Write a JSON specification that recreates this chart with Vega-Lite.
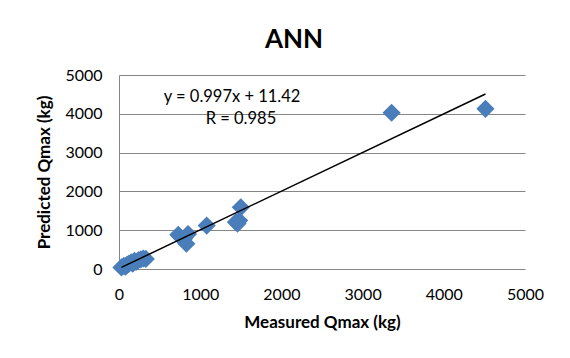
{
  "$schema": "https://vega.github.io/schema/vega-lite/v6.json",
  "autosize": {"type": "none"},
  "width": 406,
  "height": 194,
  "padding": {"left": 119, "top": 75, "right": 45, "bottom": 89},
  "background": "white",
  "title": {"text": "ANN", "fontSize": 26, "font": "Lato", "fontWeight": "bold", "color": "#000000", "offset": 14, "anchor": "middle", "dx": -28},
  "datasets": {
    "points": [
      {"measured": 30, "predicted": 40},
      {"measured": 60, "predicted": 80},
      {"measured": 80, "predicted": 60},
      {"measured": 100, "predicted": 110},
      {"measured": 120, "predicted": 130},
      {"measured": 150, "predicted": 170},
      {"measured": 170, "predicted": 140},
      {"measured": 190, "predicted": 210},
      {"measured": 210, "predicted": 180},
      {"measured": 240, "predicted": 230},
      {"measured": 270, "predicted": 250},
      {"measured": 300, "predicted": 270},
      {"measured": 330, "predicted": 260},
      {"measured": 730, "predicted": 880},
      {"measured": 850, "predicted": 900},
      {"measured": 830, "predicted": 650},
      {"measured": 800, "predicted": 780},
      {"measured": 1080, "predicted": 1120},
      {"measured": 1440, "predicted": 1210},
      {"measured": 1480, "predicted": 1250},
      {"measured": 1460, "predicted": 1170},
      {"measured": 1500, "predicted": 1590},
      {"measured": 3357, "predicted": 4026},
      {"measured": 4513, "predicted": 4129}
    ],
    "trend": [
      {"measured": 30, "predicted": 41.3},
      {"measured": 4513, "predicted": 4510.9}
    ],
    "notes": [
      {"measured": 1392, "predicted": 4432, "label": "y = 0.997x + 11.42"},
      {"measured": 1502, "predicted": 3863, "label": "R = 0.985"}
    ]
  },
  "encoding": {
    "x": {
      "field": "measured", "type": "quantitative",
      "scale": {"domain": [0, 5000], "nice": false},
      "axis": {
        "title": "Measured Qmax (kg)", "values": [0, 1000, 2000, 3000, 4000, 5000], "format": "d",
        "grid": false, "ticks": false, "domain": false,
        "labelFont": "Lato", "labelFontSize": 16, "labelColor": "#000000", "labelPadding": 17,
        "labelOverlap": false, "labelFlush": false,
        "titleFont": "Lato", "titleFontSize": 17, "titleFontWeight": "bold", "titleColor": "#000000", "titlePadding": 12
      }
    },
    "y": {
      "field": "predicted", "type": "quantitative",
      "scale": {"domain": [0, 5000], "nice": false},
      "axis": {
        "title": "Predicted Qmax (kg)", "values": [0, 1000, 2000, 3000, 4000, 5000], "format": "d",
        "grid": true, "gridColor": "#868686", "gridWidth": 1, "gridOpacity": 1,
        "ticks": false, "domain": true, "domainColor": "#868686", "domainWidth": 1,
        "labelFont": "Lato", "labelFontSize": 16, "labelColor": "#000000", "labelPadding": 17,
        "labelOverlap": false, "labelFlush": false,
        "titleFont": "Lato", "titleFontSize": 17, "titleFontWeight": "bold", "titleColor": "#000000", "titlePadding": 11
      }
    }
  },
  "layer": [
    {
      "data": {"name": "points"},
      "mark": {"type": "point", "shape": "diamond", "filled": true, "size": 330, "color": "#4a7ebb", "opacity": 1}
    },
    {
      "data": {"name": "trend"},
      "mark": {"type": "line", "color": "#000000", "strokeWidth": 1.5}
    },
    {
      "data": {"name": "notes"},
      "mark": {"type": "text", "font": "Lato", "fontSize": 16.5, "color": "#000000", "align": "center", "baseline": "middle"},
      "encoding": {"text": {"field": "label"}}
    }
  ],
  "config": {"view": {"stroke": null}}
}
